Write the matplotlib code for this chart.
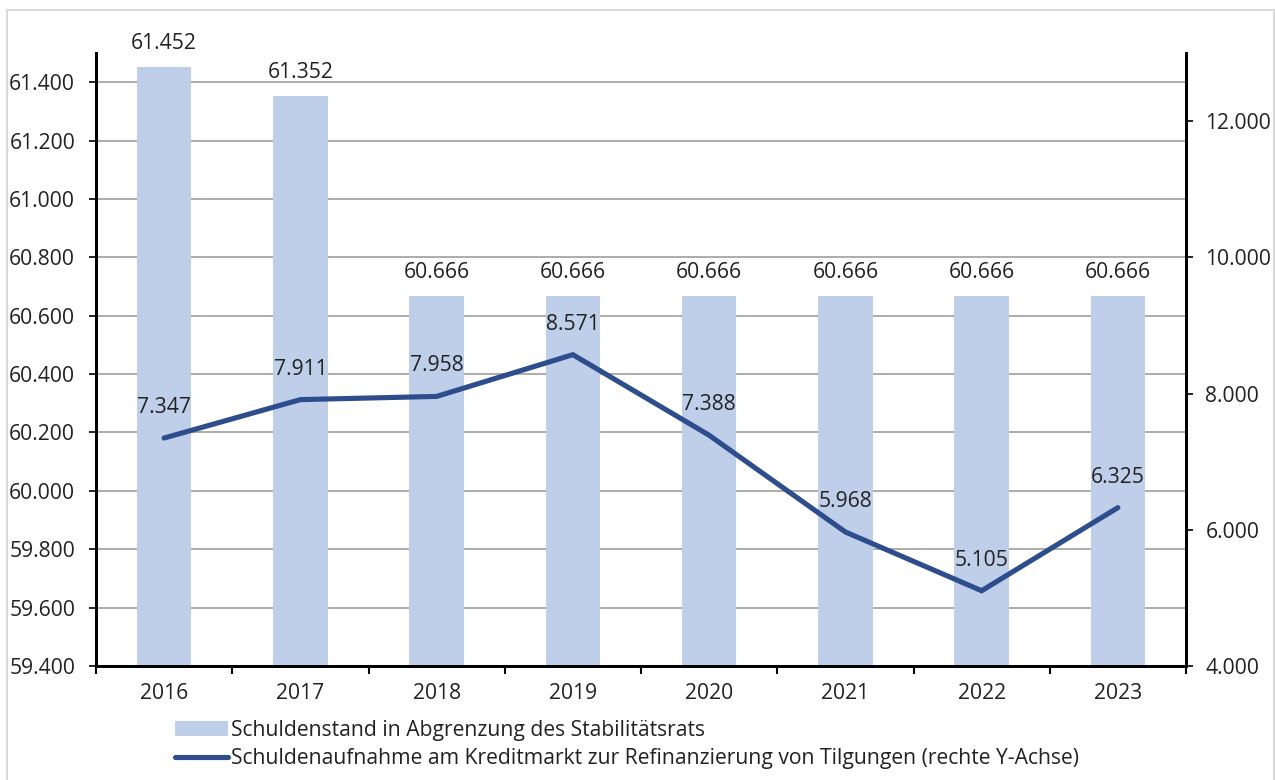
import matplotlib
matplotlib.use('Agg')
import matplotlib.pyplot as plt
from matplotlib.patches import Rectangle
from matplotlib.ticker import FuncFormatter, FixedLocator

plt.rcParams['font.family'] = ['Open Sans', 'DejaVu Sans']

# Data
years = ['2016', '2017', '2018', '2019', '2020', '2021', '2022', '2023']
schuldenstand = [61452, 61352, 60666, 60666, 60666, 60666, 60666, 60666]
refinanzierung = [7347, 7911, 7958, 8571, 7388, 5968, 5105, 6325]

bar_label = 'Schuldenstand in Abgrenzung des Stabilitätsrats'
line_label = 'Schuldenaufnahme am Kreditmarkt zur Refinanzierung von Tilgungen (rechte Y-Achse)'

bar_color = '#BFCFEA'
line_color = '#2E4D8C'
text_color = '#222222'
fs = 15.2


def de_fmt(v, pos=None):
    # German thousands separator
    return '{:,.0f}'.format(v).replace(',', '.')


fig = plt.figure(figsize=(12.75, 7.8), dpi=100)

# light grey frame around the graphic
fig.patches.append(Rectangle((7 / 1275, -0.01), 1267 / 1275, 1 - 10 / 780 + 0.01,
                             transform=fig.transFigure, fill=False,
                             edgecolor='#D9D9D9', linewidth=1.5))

ax1 = fig.add_axes([96 / 1275, 1 - 666 / 780, 1090 / 1275, 613 / 780])
ax2 = ax1.twinx()

x = list(range(len(years)))

bars = ax1.bar(x, schuldenstand, width=0.4, color=bar_color, zorder=2, label=bar_label)
ax1.set_ylim(59400, 61500)
ax1.set_xlim(-0.5, len(years) - 0.5)
ax1.yaxis.set_major_locator(FixedLocator(range(59400, 61401, 200)))
ax1.yaxis.set_major_formatter(FuncFormatter(de_fmt))
ax1.grid(axis='y', color='#A6A6A6', linewidth=1.3, zorder=0)
ax1.set_axisbelow(True)

for xi, v in zip(x, schuldenstand):
    ax1.annotate(de_fmt(v), (xi, v), xytext=(0, 17),
                 textcoords='offset points', ha='center', va='center',
                 fontsize=fs, color=text_color)

line, = ax2.plot(x, refinanzierung, color=line_color, linewidth=3.7,
                 solid_capstyle='round', solid_joinstyle='miter', zorder=3, label=line_label)
ax2.set_ylim(4000, 13000)
ax2.yaxis.set_major_locator(FixedLocator(range(4000, 12001, 2000)))
ax2.yaxis.set_major_formatter(FuncFormatter(de_fmt))

for xi, v in zip(x, refinanzierung):
    ax2.annotate(de_fmt(v), (xi, v), xytext=(0, 22),
                 textcoords='offset points', ha='center', va='center',
                 fontsize=fs, color=text_color)

# x ticks between categories
ax1.set_xticks(x)
ax1.set_xticklabels(years)
ax1.set_xticks([i - 0.5 for i in range(len(years) + 1)], minor=True)
ax1.tick_params(axis='x', which='major', length=0, pad=12, labelsize=fs, labelcolor=text_color)
ax1.tick_params(axis='x', which='minor', length=6, width=1.5, direction='out')
ax1.tick_params(axis='y', length=5, width=1.2, pad=10, labelsize=fs, labelcolor=text_color)
ax2.tick_params(axis='y', length=5, width=1.2, pad=9, labelsize=fs, labelcolor=text_color)

for a in (ax1, ax2):
    a.spines['top'].set_visible(False)
    for s in ('left', 'right', 'bottom'):
        a.spines[s].set_linewidth(2)
        a.spines[s].set_color('black')

leg = fig.legend([bars, line], [bar_label, line_label], loc='upper left',
                 bbox_to_anchor=(175 / 1275, 1 - 720 / 780), frameon=False,
                 fontsize=fs, handlelength=2.5, handletextpad=0.15,
                 labelspacing=0.33, borderaxespad=0, borderpad=0)
for t in leg.get_texts():
    t.set_color(text_color)

plt.savefig('out.png', dpi=100)
